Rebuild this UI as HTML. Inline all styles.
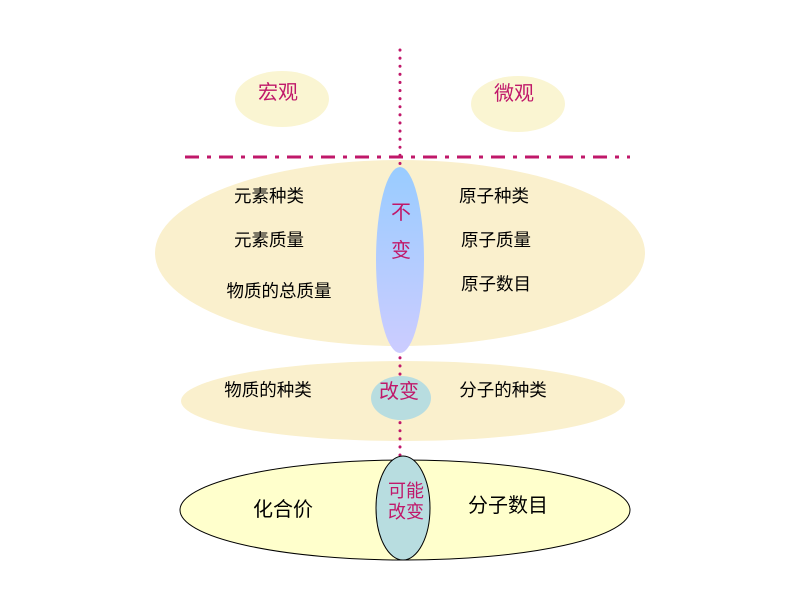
<!DOCTYPE html>
<html><head><meta charset="utf-8"><style>body{margin:0;background:#fff}svg{display:block}text{font-family:"Liberation Sans","Noto Sans CJK SC",sans-serif}</style></head>
<body>
<svg width="800" height="600" xmlns="http://www.w3.org/2000/svg">
<defs><linearGradient id="g" x1="0" y1="0" x2="0" y2="1"><stop offset="0" stop-color="#99ccff"/><stop offset="1" stop-color="#ccccff"/></linearGradient></defs>
<ellipse cx="282" cy="99" rx="47" ry="28" fill="#faf5d2"/>
<ellipse cx="518" cy="104" rx="47" ry="28" fill="#faf5d2"/>
<ellipse cx="400" cy="253" rx="245" ry="93" fill="#faf0cd"/>
<ellipse cx="403" cy="401" rx="222" ry="40" fill="#faf0cd"/>
<line x1="400" y1="50" x2="400" y2="460" stroke="#c0186a" stroke-width="3" stroke-dasharray="0.1 8" stroke-linecap="round"/>
<line x1="185" y1="157" x2="630" y2="157" stroke="#c0186a" stroke-width="3" stroke-dasharray="14 8 4 8"/>
<ellipse cx="400" cy="260" rx="24" ry="93" fill="url(#g)"/>
<ellipse cx="401" cy="398" rx="30" ry="22" fill="#b8dde0"/>
<ellipse cx="405" cy="510" rx="225" ry="50" fill="#ffffcc" stroke="#000" stroke-width="1"/>
<ellipse cx="403" cy="508" rx="27" ry="52" fill="#b8dde0" stroke="#000" stroke-width="1"/>
<g font-size="20" fill="#c0186a" text-anchor="middle">
<text x="278" y="99">宏观</text>
<text x="514" y="100">微观</text>
<text x="401" y="219">不</text>
<text x="401" y="257">变</text>
<text x="399" y="398">改变</text>
</g>
<g font-size="18" fill="#c0186a" text-anchor="middle">
<text x="406" y="497">可能</text>
<text x="406" y="518">改变</text>
</g>
<g font-size="17.5" fill="#000" text-anchor="middle">
<text x="269" y="202">元素种类</text>
<text x="269" y="246">元素质量</text>
<text x="279" y="297">物质的总质量</text>
<text x="494" y="202">原子种类</text>
<text x="496" y="246">原子质量</text>
<text x="496" y="290">原子数目</text>
<text x="268" y="396">物质的种类</text>
<text x="503" y="396">分子的种类</text>
</g>
<g font-size="20" fill="#000" text-anchor="middle">
<text x="283" y="516">化合价</text>
<text x="508" y="512">分子数目</text>
</g>
</svg>
</body></html>
